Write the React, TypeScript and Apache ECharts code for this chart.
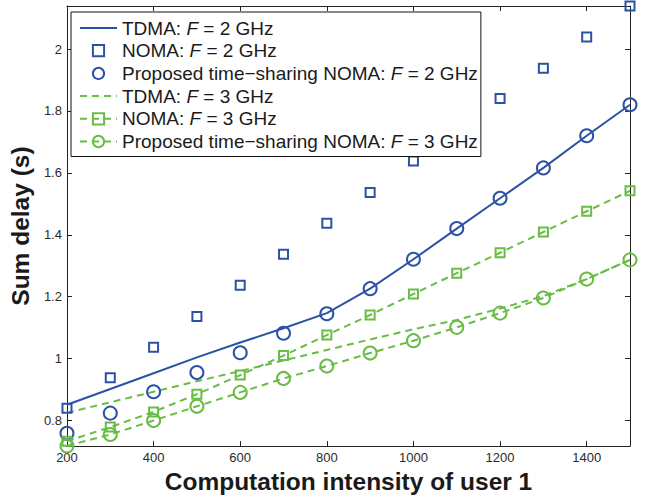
import React, { useEffect, useRef } from "react";
import * as echarts from "echarts";

const intensity = [200, 300, 400, 500, 600, 700, 800, 900, 1000, 1100, 1200, 1300, 1400, 1500];

const tdmaF2 = [0.851, 0.902, 0.953, 1.004, 1.052, 1.098, 1.147, 1.226, 1.321, 1.42, 1.518, 1.616, 1.72, 1.82];
const nomaF2 = [0.84, 0.938, 1.037, 1.136, 1.237, 1.337, 1.437, 1.537, 1.638, 1.74, 1.84, 1.938, 2.039, 2.139];
const propF2 = [0.759, 0.824, 0.893, 0.955, 1.019, 1.082, 1.145, 1.226, 1.321, 1.42, 1.518, 1.616, 1.72, 1.82];
const tdmaF3 = [0.825, 0.859, 0.893, 0.927, 0.96, 0.994, 1.028, 1.062, 1.095, 1.125, 1.162, 1.202, 1.257, 1.319];
const nomaF3 = [0.733, 0.779, 0.828, 0.885, 0.947, 1.01, 1.076, 1.141, 1.209, 1.276, 1.342, 1.409, 1.476, 1.542];
const propF3 = [0.718, 0.755, 0.8, 0.846, 0.891, 0.936, 0.976, 1.018, 1.058, 1.101, 1.147, 1.196, 1.257, 1.319];

const xTicks = [200, 400, 600, 800, 1000, 1200, 1400];
const yTicks = [0.8, 1.0, 1.2, 1.4, 1.6, 1.8, 2.0];

const names = [
  "TDMA: F = 2 GHz",
  "NOMA: F = 2 GHz",
  "Proposed time\u2212sharing NOMA: F = 2 GHz",
  "TDMA: F = 3 GHz",
  "NOMA: F = 3 GHz",
  "Proposed time\u2212sharing NOMA: F = 3 GHz",
];

const BLUE = "#2c52a5";
const GREEN = "#69bd45";
const FONT = "Liberation Sans, Arial, Helvetica, sans-serif";

const pairs = (ys: number[]) => intensity.map((x, i) => [x, ys[i]]);

export default function App() {
  const ref = useRef<HTMLDivElement>(null);
  useEffect(() => {
    if (!ref.current) return;
    const chart = echarts.init(ref.current, null, { renderer: "svg" });
    const axisLine = { show: true, lineStyle: { color: "#222", width: 1 } };
    const tick = { show: true, inside: true, length: 5, lineStyle: { color: "#222", width: 1 } };
    const label = { color: "#2a2a2a", fontSize: 13, fontFamily: FONT, formatter: (v: number) => String(v) };
    const dashed = { type: [7, 5] as any, width: 2, color: GREEN };
    const titleStyle = { fontSize: 24.5, fontWeight: "bold", color: "#1a1a1a", fontFamily: FONT };
    chart.setOption({
      animation: false,
      backgroundColor: "#fff",
      grid: { left: 65, right: 27, top: 6, bottom: 47 },
      xAxis: [
        {
          type: "value",
          min: 200,
          max: 1500,
          interval: 200,
          position: "bottom",
          axisLine,
          axisTick: { ...tick, customValues: xTicks },
          axisLabel: { ...label, margin: 5, customValues: xTicks },
          splitLine: { show: false },
          name: "Computation intensity of user 1",
          nameLocation: "middle",
          nameGap: 17,
          nameTextStyle: titleStyle,
        },
        {
          type: "value",
          min: 200,
          max: 1500,
          interval: 200,
          position: "top",
          axisLine,
          axisTick: { ...tick, customValues: xTicks },
          axisLabel: { show: false },
          splitLine: { show: false },
        },
      ],
      yAxis: [
        {
          type: "value",
          min: 0.7175,
          max: 2.139,
          position: "left",
          axisLine,
          axisTick: { ...tick, customValues: yTicks },
          axisLabel: { ...label, margin: 5, customValues: yTicks },
          splitLine: { show: false },
          name: "Sum delay (s)",
          nameLocation: "middle",
          nameGap: 31,
          nameTextStyle: titleStyle,
        },
        {
          type: "value",
          min: 0.7175,
          max: 2.139,
          position: "right",
          axisLine,
          axisTick: { ...tick, customValues: yTicks },
          axisLabel: { show: false },
          splitLine: { show: false },
        },
      ],
      legend: {
        orient: "vertical",
        left: 71,
        top: 12,
        z: 20,
        backgroundColor: "#fff",
        borderColor: "#111",
        borderWidth: 1,
        borderRadius: 0,
        padding: [6, 3, 5, 8],
        itemWidth: 37,
        itemHeight: 14,
        itemGap: 2.7,
        data: names,
        formatter: (n: string) => n.replace(": F", ": {i|F}"),
        textStyle: {
          fontSize: 19,
          fontFamily: FONT,
          color: "#1a1a1a",
          lineHeight: 20,
          rich: {
            i: { fontSize: 19, fontFamily: FONT, fontStyle: "italic", color: "#1a1a1a", lineHeight: 20 },
          },
        },
      },
      series: [
        {
          name: names[0],
          type: "line",
          data: pairs(tdmaF2),
          symbol: "circle",
          showSymbol: false,
          lineStyle: { color: BLUE, width: 2 },
          itemStyle: { color: BLUE, opacity: 0 },
          z: 3,
        },
        {
          name: names[1],
          type: "line",
          data: pairs(nomaF2),
          symbol: "rect",
          symbolSize: 9,
          lineStyle: { width: 0, color: BLUE },
          itemStyle: { color: "transparent", borderColor: BLUE, borderWidth: 2 },
          z: 3,
        },
        {
          name: names[2],
          type: "line",
          data: pairs(propF2),
          symbol: "circle",
          symbolSize: 13,
          lineStyle: { width: 0, color: BLUE },
          itemStyle: { color: "transparent", borderColor: BLUE, borderWidth: 2 },
          z: 3,
        },
        {
          name: names[3],
          type: "line",
          data: pairs(tdmaF3),
          symbol: "circle",
          showSymbol: false,
          lineStyle: dashed,
          itemStyle: { color: GREEN, opacity: 0 },
          z: 3,
        },
        {
          name: names[4],
          type: "line",
          data: pairs(nomaF3),
          symbol: "rect",
          symbolSize: 9,
          lineStyle: dashed,
          itemStyle: { color: "transparent", borderColor: GREEN, borderWidth: 2 },
          z: 3,
        },
        {
          name: names[5],
          type: "line",
          data: pairs(propF3),
          symbol: "circle",
          symbolSize: 13,
          lineStyle: dashed,
          itemStyle: { color: "transparent", borderColor: GREEN, borderWidth: 2 },
          z: 3,
        },
      ],
    });
    return () => chart.dispose();
  }, []);
  return (
    <div
      ref={ref}
      style={{ position: "fixed", left: 0, top: 0, width: 657, height: 499, background: "#fff" }}
    />
  );
}
